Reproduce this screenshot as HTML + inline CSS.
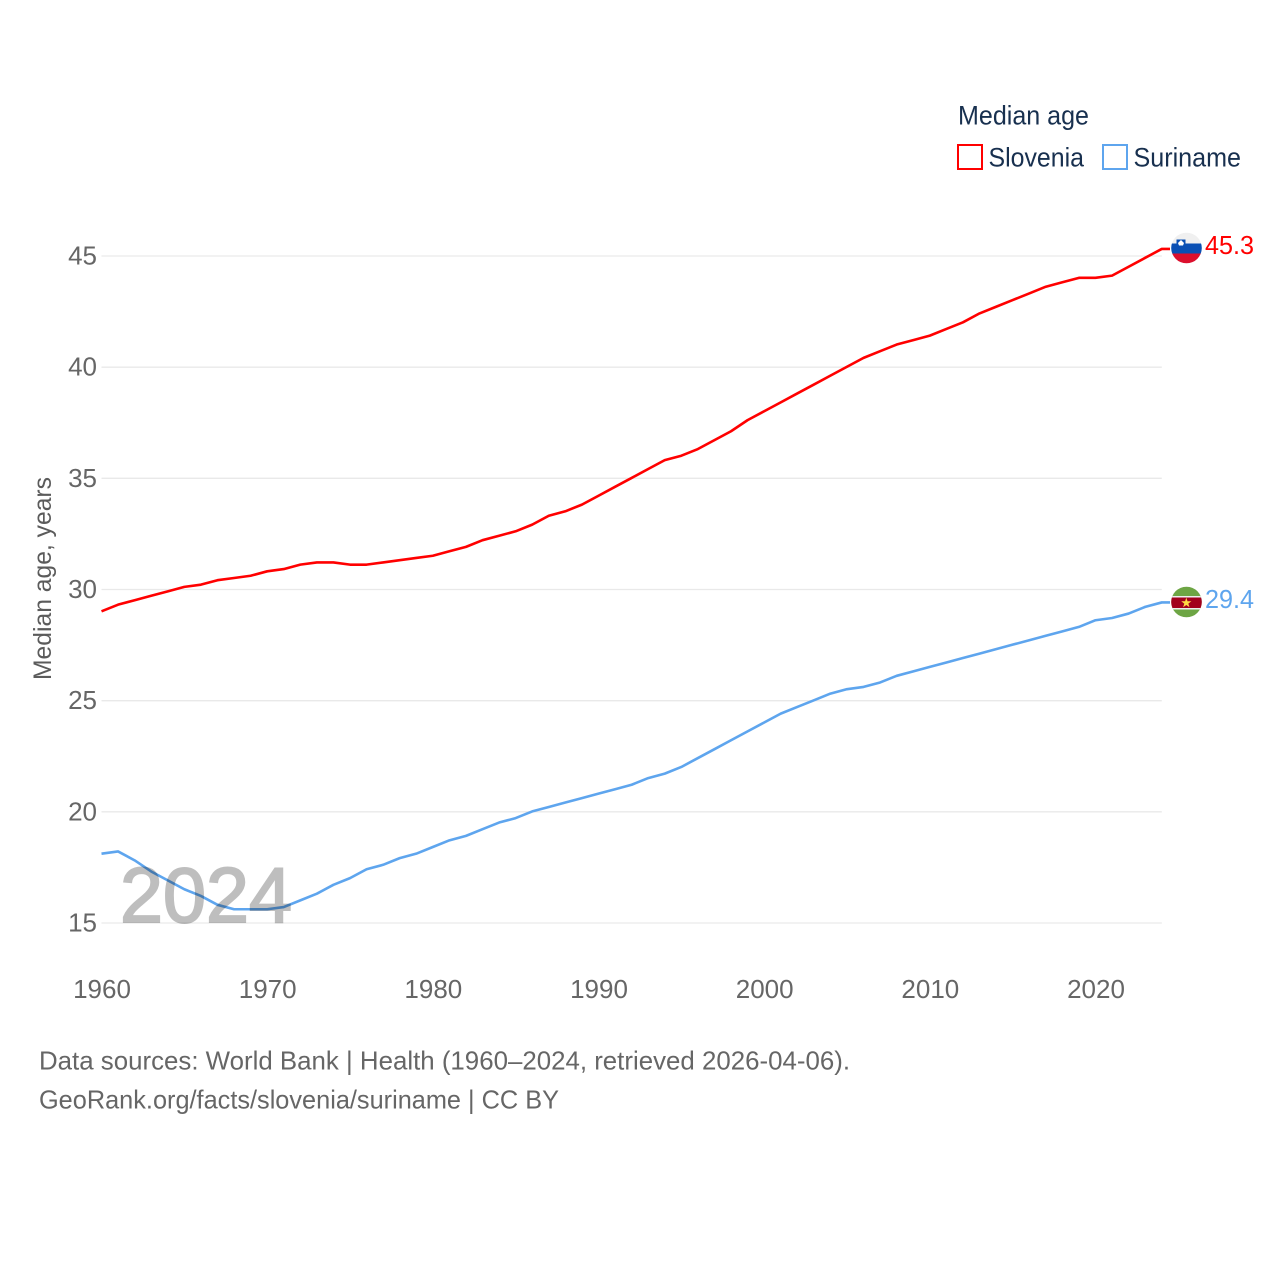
<!DOCTYPE html>
<html lang="en">
<head>
<meta charset="utf-8">
<title>Median age: Slovenia and Suriname</title>
<style>
html,body{margin:0;padding:0;background:#fff;width:1280px;height:1280px;overflow:hidden}
svg{display:block;font-family:"Liberation Sans",sans-serif}
</style>
</head>
<body>
<svg id="chart" xmlns="http://www.w3.org/2000/svg" width="1280" height="1280" viewBox="0 0 1280 1280">
  <rect width="1280" height="1280" fill="#fff"/>
  <g id="grid"></g>
  <g id="yticks"></g>
  <g id="xticks"></g>
  <text transform="translate(51,680) rotate(-90)" font-size="25" fill="#5b5b5b" textLength="203" lengthAdjust="spacingAndGlyphs">Median age, years</text>
  <g id="series"></g>
  <text x="120" y="922" font-size="78" fill="#000" stroke="#000" stroke-width="2" opacity="0.25" textLength="172" lengthAdjust="spacingAndGlyphs">2024</text>

  <g>
    <text x="958" y="124.5" font-size="27" fill="#18304f" textLength="131" lengthAdjust="spacingAndGlyphs">Median age</text>
    <g>
      <rect x="958" y="145" width="24" height="24" fill="none" stroke="#ff0000" stroke-width="2"/>
      <text x="988.5" y="166.5" font-size="27" fill="#18304f" textLength="95.5" lengthAdjust="spacingAndGlyphs">Slovenia</text>
    </g>
    <g>
      <rect x="1103" y="145" width="24" height="24" fill="none" stroke="#5ea5ee" stroke-width="2"/>
      <text x="1133.5" y="166.5" font-size="27" fill="#18304f" textLength="107.5" lengthAdjust="spacingAndGlyphs">Suriname</text>
    </g>
  </g>

  <defs>
    <clipPath id="flag-si"><circle cx="1186.5" cy="248" r="15.3"/></clipPath>
    <clipPath id="flag-sr"><circle cx="1186.5" cy="602" r="15.3"/></clipPath>
  </defs>
  <g id="flag-slovenia" clip-path="url(#flag-si)">
    <rect x="1170" y="232" width="34" height="11.5" fill="#f0f0f0"/>
    <rect x="1170" y="243.5" width="34" height="10" fill="#0a50b4"/>
    <rect x="1170" y="253.5" width="34" height="11" fill="#dc0f2d"/>
    <path d="M1176.5 239.5h9v5q-1 3-4.5 4q-3.5-1-4.5-4z" fill="#0a50b4"/>
    <path d="M1178 243l3-3l3 3l-1 2.5h-4z" fill="#fff"/>
  </g>
  <g id="flag-suriname" clip-path="url(#flag-sr)">
    <rect x="1170" y="586" width="34" height="33" fill="#6da544"/>
    <rect x="1170" y="596" width="34" height="13.5" fill="#eeeeee"/>
    <rect x="1170" y="597.5" width="34" height="10.5" fill="#a2001d"/>
    <polygon points="1186.3,597.6 1187.5,601.3 1191.4,601.3 1188.3,603.6 1189.5,607.3 1186.3,605 1183.1,607.3 1184.3,603.6 1181.2,601.3 1185.1,601.3" fill="#ffda44"/>
  </g>
  <text id="value-slovenia" x="1205" y="254" font-size="26" fill="#ff0000" textLength="49" lengthAdjust="spacingAndGlyphs"></text>
  <text id="value-suriname" x="1205" y="608" font-size="26" fill="#5ea5ee" textLength="49" lengthAdjust="spacingAndGlyphs"></text>

  <text x="39" y="1069.5" font-size="26" fill="#666666" textLength="811" lengthAdjust="spacingAndGlyphs">Data sources: World Bank | Health (1960–2024, retrieved 2026-04-06).</text>
  <text x="39" y="1108.5" font-size="26" fill="#666666" textLength="520" lengthAdjust="spacingAndGlyphs">GeoRank.org/facts/slovenia/suriname | CC BY</text>
</svg>
<script>
const startYear = 1960;
const yTickValues = [15, 20, 25, 30, 35, 40, 45];
const xTickValues = [1960, 1970, 1980, 1990, 2000, 2010, 2020];
const sloveniaValues = [
  29.0,29.3,29.5,29.7,29.9,30.1,30.2,30.4,30.5,30.6,
  30.8,30.9,31.1,31.2,31.2,31.1,31.1,31.2,31.3,31.4,
  31.5,31.7,31.9,32.2,32.4,32.6,32.9,33.3,33.5,33.8,
  34.2,34.6,35.0,35.4,35.8,36.0,36.3,36.7,37.1,37.6,
  38.0,38.4,38.8,39.2,39.6,40.0,40.4,40.7,41.0,41.2,
  41.4,41.7,42.0,42.4,42.7,43.0,43.3,43.6,43.8,44.0,
  44.0,44.1,44.5,44.9,45.3
];
const surinameValues = [
  18.1,18.2,17.8,17.3,16.9,16.5,16.2,15.8,15.6,15.6,
  15.6,15.7,16.0,16.3,16.7,17.0,17.4,17.6,17.9,18.1,
  18.4,18.7,18.9,19.2,19.5,19.7,20.0,20.2,20.4,20.6,
  20.8,21.0,21.2,21.5,21.7,22.0,22.4,22.8,23.2,23.6,
  24.0,24.4,24.7,25.0,25.3,25.5,25.6,25.8,26.1,26.3,
  26.5,26.7,26.9,27.1,27.3,27.5,27.7,27.9,28.1,28.3,
  28.6,28.7,28.9,29.2,29.4
];

const NS = 'http://www.w3.org/2000/svg';
const xScale = function (year) { return 101.5 + (year - 1960) * (1095.5 - 101.5) / 60; };
const yScale = function (v) { return 923 - (v - 15) * (923 - 256) / 30; };
const LINE_END_X = 1170;

const gridGroup = document.getElementById('grid');
const yTickGroup = document.getElementById('yticks');
const xTickGroup = document.getElementById('xticks');
const seriesGroup = document.getElementById('series');

yTickValues.forEach(function (v) {
  const line = document.createElementNS(NS, 'line');
  
  
  line.setAttribute('x1', xScale(1960));
  line.setAttribute('x2', xScale(2024));
  line.setAttribute('y1', yScale(v));
  line.setAttribute('y2', yScale(v));
  line.setAttribute('stroke', '#e9e9e9');
  line.setAttribute('stroke-width', '1.3');
  gridGroup.appendChild(line);

  const label = document.createElementNS(NS, 'text');
  
  
  label.setAttribute('x', 97);
  label.setAttribute('y', yScale(v) + 8.5);
  label.setAttribute('text-anchor', 'end');
  label.setAttribute('font-size', '26');
  label.setAttribute('fill', '#666666');
  label.textContent = String(v);
  yTickGroup.appendChild(label);
});

xTickValues.forEach(function (year) {
  const label = document.createElementNS(NS, 'text');
  
  
  label.setAttribute('x', xScale(year) + 0.5);
  label.setAttribute('y', 998);
  label.setAttribute('text-anchor', 'middle');
  label.setAttribute('font-size', '26');
  label.setAttribute('fill', '#666666');
  label.textContent = String(year);
  xTickGroup.appendChild(label);
});

function drawSeries(values, color, name) {
  const pts = values.map(function (v, i) {
    return xScale(startYear + i).toFixed(2) + ',' + (yScale(v) - 0.4).toFixed(2);
  });
  pts.push(LINE_END_X + ',' + (yScale(values[values.length - 1]) - 0.4).toFixed(2));
  const path = document.createElementNS(NS, 'polyline');
  
  
  path.setAttribute('points', pts.join(' '));
  path.setAttribute('fill', 'none');
  path.setAttribute('stroke', color);
  path.setAttribute('stroke-width', '2.6');
  path.setAttribute('stroke-linejoin', 'round');
  seriesGroup.appendChild(path);
}
drawSeries(sloveniaValues, '#ff0000', 'slovenia-line');
drawSeries(surinameValues, '#5ea5ee', 'suriname-line');

document.getElementById('value-slovenia').textContent = sloveniaValues[sloveniaValues.length - 1].toFixed(1);
document.getElementById('value-suriname').textContent = surinameValues[surinameValues.length - 1].toFixed(1);
</script>
</body>
</html>
